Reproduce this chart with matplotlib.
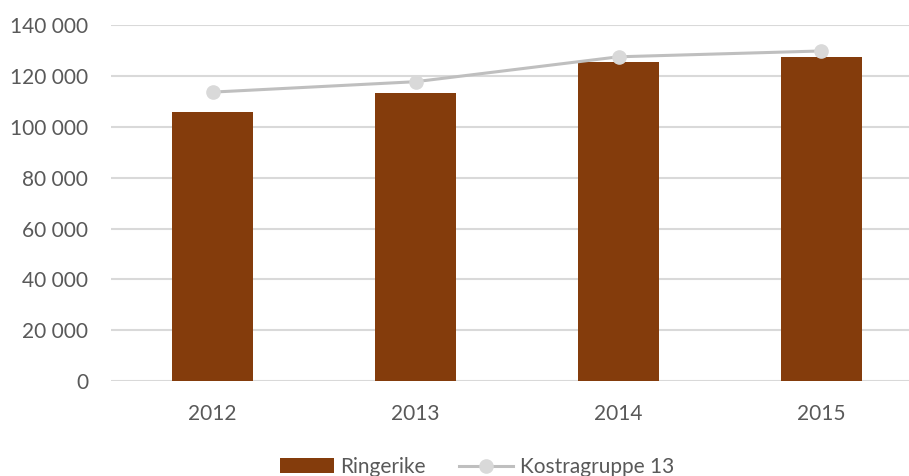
import matplotlib.pyplot as plt
from matplotlib.ticker import FuncFormatter

plt.rcParams['font.family'] = ['Lato', 'DejaVu Sans']

# data
years = ['2012', '2013', '2014', '2015']
ringerike = [106000, 113200, 125600, 127400]
kostra13 = [113700, 117800, 127600, 129900]

bar_color = '#843C0C'
line_color = '#BFBFBF'
marker_color = '#D9D9D9'
grid_color = '#D9D9D9'
text_color = '#595959'

fig = plt.figure(figsize=(9.09, 4.76), dpi=100)
ax = fig.add_axes([111 / 909, 1 - 381 / 476, 812 / 909, 355.7 / 476])

x = range(len(years))
bars = ax.bar(x, ringerike, width=0.4, color=bar_color, label='Ringerike', zorder=2)
line, = ax.plot(x, kostra13, color=line_color, lw=2.2, marker='o', markersize=9.5,
                markerfacecolor=marker_color, markeredgecolor=marker_color,
                label='Kostragruppe 13', zorder=3)

ax.set_xlim(-0.5, 3.5)
ax.set_ylim(0, 140000)
ax.set_yticks(range(0, 140001, 20000))
ax.yaxis.set_major_formatter(FuncFormatter(lambda v, p: f'{int(v):,}'.replace(',', ' ')))
ax.set_xticks(list(x))
ax.set_xticklabels(years)

ax.grid(axis='y', color=grid_color, lw=1.5, zorder=0)
ax.set_axisbelow(True)
for s in ax.spines.values():
    s.set_visible(False)
ax.tick_params(axis='both', length=0, labelsize=15, labelcolor=text_color)
ax.tick_params(axis='y', pad=16.5)
ax.tick_params(axis='x', pad=16.5)

leg = fig.legend([bars, line], ['Ringerike', 'Kostragruppe 13'], loc='center',
                 bbox_to_anchor=(477 / 909, 1 - 467 / 476), ncol=2,
                 frameon=False, fontsize=15, handlelength=2.6, columnspacing=1.6,
                 handletextpad=0.3)
for t in leg.get_texts():
    t.set_color(text_color)

fig.savefig('out.png', dpi=100)
